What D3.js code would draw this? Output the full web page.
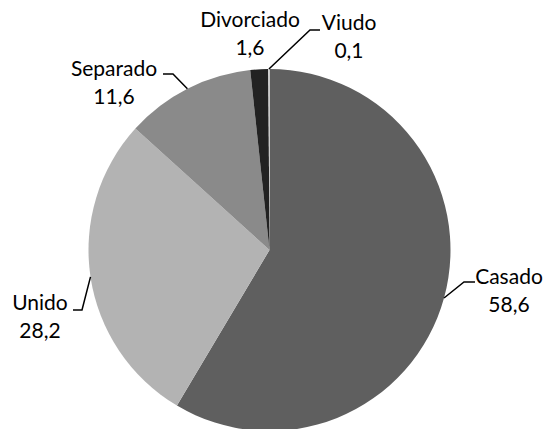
<!DOCTYPE html>
<html lang="es">
<head>
<meta charset="UTF-8">
<title>Estado civil</title>
<style>
  html, body { margin: 0; padding: 0; background: #fff; }
  text { font-family: Lato, "Open Sans", sans-serif; fill: #000; }
</style>
</head>
<body>
<script src="https://cdn.jsdelivr.net/npm/d3@7"></script>
<div id="chart"></div>
<script>
// data
var categories = ["Casado", "Unido", "Separado", "Divorciado", "Viudo"];
var values = [58.6, 28.2, 11.6, 1.6, 0.1];
var valueLabels = ["58,6", "28,2", "11,6", "1,6", "0,1"];

// look
var colors = ["#5f5f5f", "#b3b3b3", "#8a8a8a", "#222222", "#e4e4e4"];

// label placement (label centre x, first baseline y, leader elbow and end)
var labelLayout = [
  {x: 509, y: 284, elbow: [464, 282], end: [475, 282]},
  {x: 40,  y: 310, elbow: [82, 310],  end: [73, 310]},
  {x: 114, y: 76,  elbow: [173, 74],  end: [163, 74]},
  {x: 250, y: 27,  elbow: null,       end: null},
  {x: 349, y: 30,  elbow: [310, 30],  end: [320, 30]}
];

var width = 546, height = 429;
var cx = 269.5, cy = 250, radius = 181;
var fontSize = 21, lineGap = 28;

var svg = d3.select("#chart")
  .append("svg")
    .attr("width", width)
    .attr("height", height);

var g = svg.append("g")
    .attr("transform", "translate(" + cx + "," + cy + ")");

var data = categories.map(function(c, i) {
  return {name: c, value: values[i], label: valueLabels[i], i: i};
});

var pie = d3.pie()
  .sort(null)
  .value(function(d) { return d.value; });

var arc = d3.arc()
  .innerRadius(0)
  .outerRadius(radius);

var arcs = pie(data);

// slices
g.selectAll("path.slice")
  .data(arcs)
  .enter()
  .append("path")
    .attr("class", "slice")
    .attr("d", arc)
    .attr("fill", function(d) { return colors[d.data.i]; });

// leader lines: from the slice edge at its middle angle to the label
arcs.forEach(function(d) {
  var lay = labelLayout[d.data.i];
  if (!lay.elbow) return;
  var mid = (d.startAngle + d.endAngle) / 2;
  var sx = cx + radius * Math.sin(mid);
  var sy = cy - radius * Math.cos(mid);
  svg.append("polyline")
    .attr("points", [[sx, sy], lay.elbow, lay.end].map(function(p) { return p.join(","); }).join(" "))
    .attr("fill", "none")
    .attr("stroke", "#000")
    .attr("stroke-width", 1.5);
});

// labels
arcs.forEach(function(d) {
  var lay = labelLayout[d.data.i];
  var t = svg.append("text")
    .attr("text-anchor", "middle")
    .style("font-size", fontSize + "px");
  t.append("tspan")
    .attr("x", lay.x)
    .attr("y", lay.y)
    .text(d.data.name);
  t.append("tspan")
    .attr("x", lay.x)
    .attr("y", lay.y + lineGap)
    .text(d.data.label);
});
</script>
</body>
</html>
